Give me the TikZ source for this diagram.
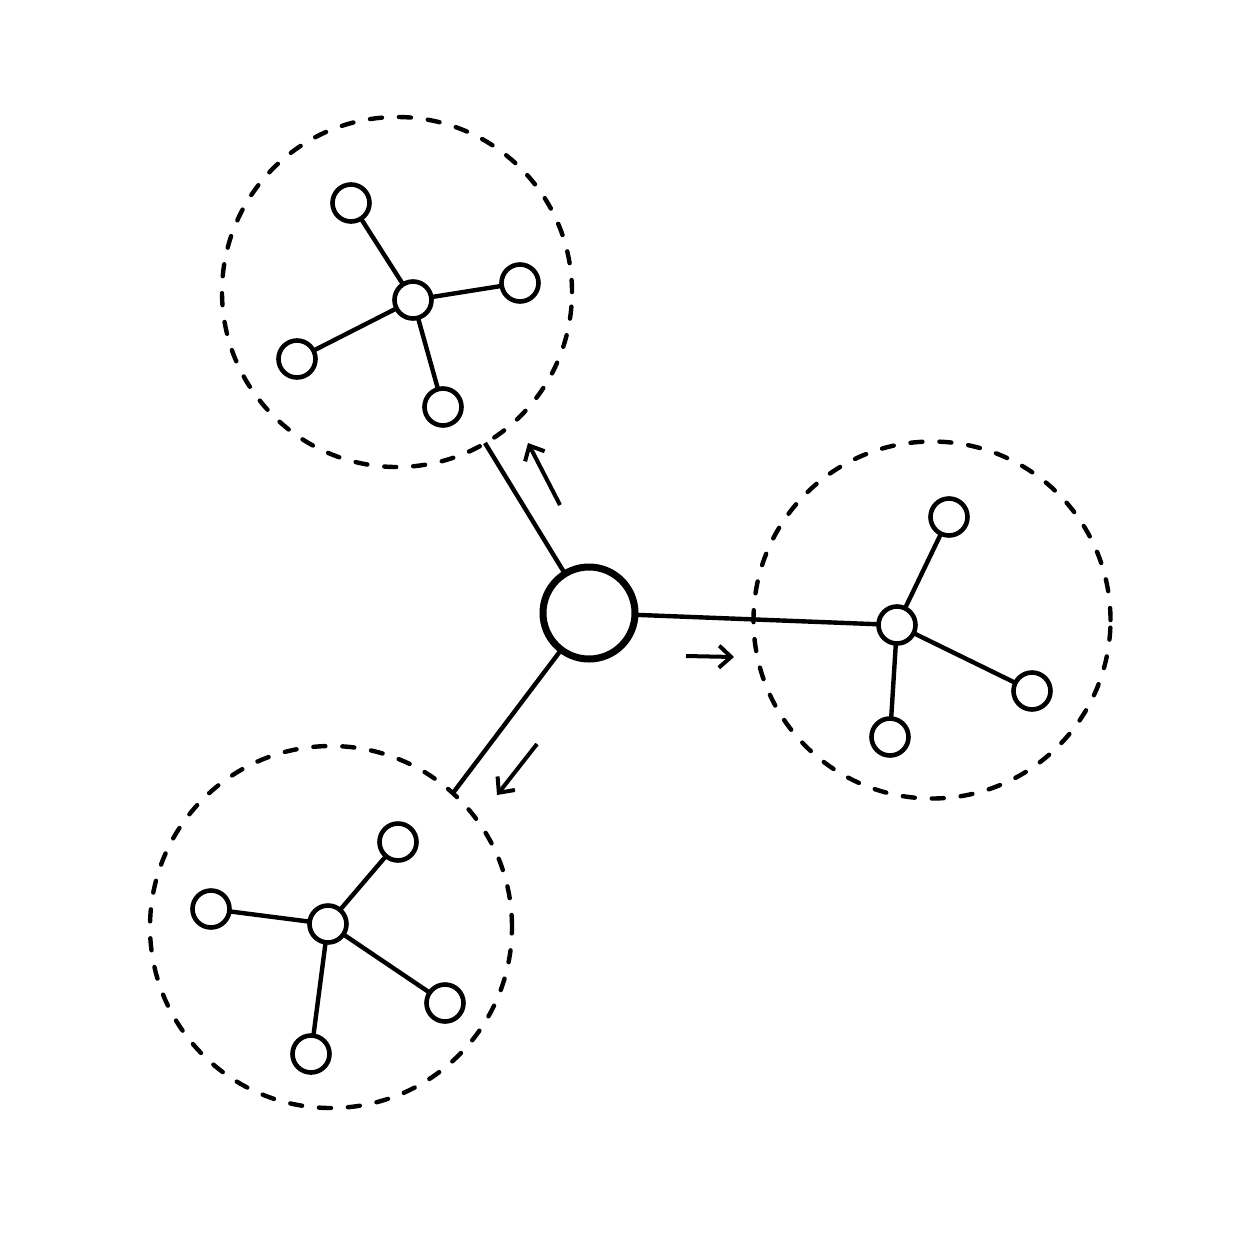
\documentclass[tikz,border=0pt]{standalone}
\usetikzlibrary{arrows.meta,calc}
\begin{document}
\begin{tikzpicture}[x=1pt,y=-1pt,
  leaf/.style={circle,draw,line width=4.6pt,fill=white,minimum size=37pt,inner sep=0pt},
  core/.style={circle,draw,line width=7pt,fill=white,minimum size=92pt,inner sep=0pt},
  zone/.style={circle,draw,line width=4.4pt,dash pattern=on 12pt off 17pt,line cap=round,inner sep=0pt},
  link/.style={line width=4.4pt},
  flow/.style={line width=4pt,-{Straight Barb[length=12pt,width=22pt,line width=4pt]}}]
\useasboundingbox (0,0) rectangle (1254,1254);
% zones
\node[zone,minimum size=350pt] (zA) at (397,292) {};
\node[zone,minimum size=357pt] (zB) at (932,620) {};
\node[zone,minimum size=362pt] (zC) at (331,927) {};
% center
\coordinate (cc) at (589,613);
% connector end points on zones
\coordinate (eA) at (485,443);
\coordinate (eC) at (453,793);
% cluster A
\coordinate (hA) at (413,300);
\coordinate (a1) at (351,203);
\coordinate (a2) at (520,283);
\coordinate (a3) at (297,359);
\coordinate (a4) at (443,407);
% cluster B
\coordinate (hB) at (897,625);
\coordinate (b1) at (949,517);
\coordinate (b2) at (1032,691);
\coordinate (b3) at (890,737);
% cluster C
\coordinate (hC) at (328,924);
\coordinate (c1) at (398,842);
\coordinate (c2) at (211,909);
\coordinate (c3) at (445,1003);
\coordinate (c4) at (311,1054);
% links
\draw[link] (cc) -- (eA);
\draw[link] (cc) -- (eC);
\draw[link] (cc) -- (hB);
\foreach \l in {a1,a2,a3,a4} \draw[link] (hA) -- (\l);
\foreach \l in {b1,b2,b3} \draw[link] (hB) -- (\l);
\foreach \l in {c1,c2,c3,c4} \draw[link] (hC) -- (\l);
% nodes
\node[core] (center) at (cc) {};
\foreach \l in {hA,a1,a2,a3,a4,hB,b1,b2,b3,hC,c1,c2,c3,c4} \node[leaf] (n\l) at (\l) {};
% direction arrows
\coordinate (fA0) at (560,505); \coordinate (fA1) at (528,443);
\coordinate (fB0) at (686,656); \coordinate (fB1) at (734,657);
\coordinate (fC0) at (537,744); \coordinate (fC1) at (497,795);
\draw[flow] (fA0) -- (fA1);
\draw[flow] (fB0) -- (fB1);
\draw[flow] (fC0) -- (fC1);
\end{tikzpicture}
\end{document}
